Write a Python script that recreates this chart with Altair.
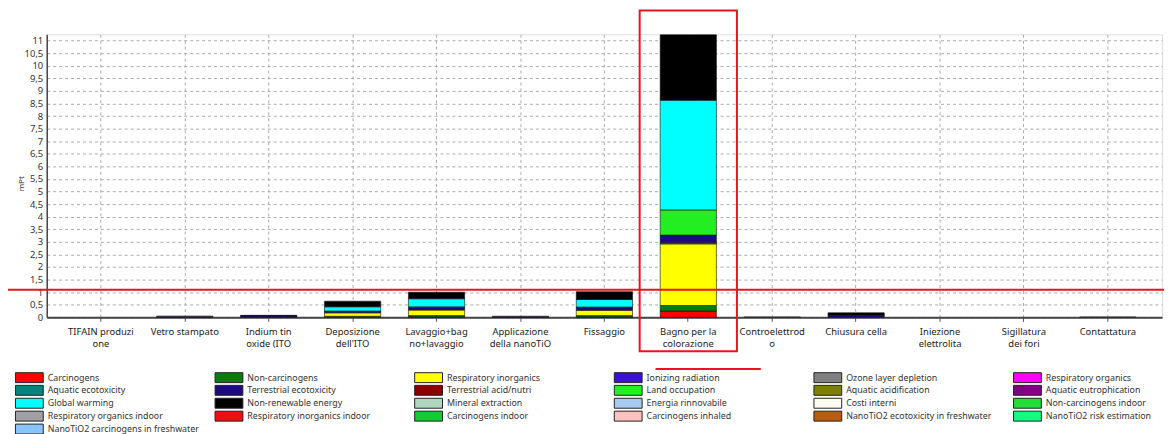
import altair as alt
import pandas as pd

FONT = "Noto Sans"

categories = [
    "TIFAIN produzi|one", "Vetro stampato", "Indium tin|oxide (ITO",
    "Deposizione|dell'ITO", "Lavaggio+bag|no+lavaggio", "Applicazione|della nanoTiO",
    "Fissaggio", "Bagno per la|colorazione", "Controelettrod|o", "Chiusura cella",
    "Iniezione|elettrolita", "Sigillatura|dei fori", "Contattatura",
]

impacts = [
    "Carcinogens", "Non-carcinogens", "Respiratory inorganics", "Ionizing radiation",
    "Ozone layer depletion", "Respiratory organics", "Aquatic ecotoxicity",
    "Terrestrial ecotoxicity", "Terrestrial acid/nutri", "Land occupation",
    "Aquatic acidification", "Aquatic eutrophication", "Global warming",
    "Non-renewable energy", "Mineral extraction", "Energia rinnovabile",
    "Costi interni", "Non-carcinogens indoor", "Respiratory organics indoor",
    "Respiratory inorganics indoor", "Carcinogens indoor", "Carcinogens inhaled",
    "NanoTiO2 ecotoxicity in freshwater", "NanoTiO2 risk estimation",
    "NanoTiO2 carcinogens in freshwater",
]

colors = [
    "#ff0000", "#0b7a12", "#ffff00", "#3a10d8",
    "#808080", "#ff00ff", "#0a8080",
    "#1e0a80", "#8a0000", "#22ee22",
    "#7f8000", "#800080", "#00ffff",
    "#000000", "#b0d8c0", "#a6caf0",
    "#fffbf0", "#22dd33", "#a0a0a4",
    "#ee1010", "#10cc30", "#ffc0c0",
    "#b85c14", "#10ff80",
    "#88c4ff",
]

# values (mPt) per process, in the order of `categories`
carcinogens            = [0, 0, 0, 0, 0.02, 0, 0.02, 0.25, 0, 0, 0, 0, 0]
non_carcinogens        = [0, 0, 0, 0.04, 0.05, 0, 0.05, 0.22, 0, 0, 0, 0, 0]
respiratory_inorganics = [0, 0, 0, 0.14, 0.22, 0, 0.21, 2.45, 0, 0, 0, 0, 0]
respiratory_organics   = [0, 0, 0, 0, 0, 0, 0, 0.04, 0, 0, 0, 0, 0]
terrestrial_ecotox     = [0, 0, 0.05, 0.05, 0.10, 0, 0.11, 0.31, 0, 0.08, 0, 0, 0]
land_occupation        = [0, 0, 0, 0.02, 0.03, 0, 0.02, 1.00, 0, 0, 0, 0, 0]
aquatic_eutrophication = [0, 0.03, 0, 0, 0, 0.025, 0, 0, 0, 0, 0, 0, 0]
global_warming         = [0, 0, 0, 0.17, 0.32, 0, 0.30, 4.36, 0, 0, 0, 0, 0]
non_renewable_energy   = [0, 0, 0.03, 0.22, 0.26, 0, 0.31, 2.60, 0, 0.10, 0, 0, 0]
energia_rinnovabile    = [0, 0.02, 0, 0, 0, 0.02, 0, 0, 0.015, 0, 0, 0, 0.015]

series = {
    "Carcinogens": carcinogens,
    "Non-carcinogens": non_carcinogens,
    "Respiratory inorganics": respiratory_inorganics,
    "Respiratory organics": respiratory_organics,
    "Terrestrial ecotoxicity": terrestrial_ecotox,
    "Land occupation": land_occupation,
    "Aquatic eutrophication": aquatic_eutrophication,
    "Global warming": global_warming,
    "Non-renewable energy": non_renewable_energy,
    "Energia rinnovabile": energia_rinnovabile,
}

y_ticks = [i * 0.5 for i in range(23)]

rows = []
for name, vals in series.items():
    for cat, v in zip(categories, vals):
        if v > 0:
            rows.append({"process": cat, "impact": name, "value": v,
                         "order": impacts.index(name)})
df = pd.DataFrame(rows)

W, H = 1123, 285

y_scale = alt.Scale(domain=[0, 11.25], nice=False, zero=True)
y_axis = alt.Axis(
    values=y_ticks, title="mPt", titleFont=FONT, titleFontSize=8,
    titleFontWeight="normal", titleColor="#333", titleX=-25, titleY=150,
    titleAngle=-90, titleAlign="center", titleBaseline="middle",
    labelExpr="replace(format(datum.value, '~g'), '.', ',')", labelOverlap=False,
    labelFont=FONT, labelFontSize=9.5, labelColor="#333", labelPadding=4,
    ticks=False, grid=True, gridDash=[3, 3], gridColor="#aaaaaa",
    domainColor="#444", domainWidth=1.5,
)
x_scale = alt.Scale(domain=categories, paddingInner=0.33, paddingOuter=0.31)
x_axis = alt.Axis(
    title=None, labelAngle=0, labelExpr="split(datum.label, '|')",
    labelFont=FONT, labelFontSize=9.5, labelColor="#222", labelLineHeight=12,
    labelPadding=5, grid=True, gridDash=[3, 3], gridColor="#aaaaaa",
    bandPosition=0.5, ticks=True, tickSize=4, tickColor="#555",
    domainColor="#444", domainWidth=2, labelLimit=200,
)

bars = alt.Chart(df).mark_bar(stroke="#111", strokeWidth=0.6).encode(
    x=alt.X("process:N", scale=x_scale, axis=x_axis),
    y=alt.Y("value:Q", stack="zero", scale=y_scale, axis=y_axis),
    color=alt.Color(
        "impact:N",
        scale=alt.Scale(domain=impacts, range=colors),
        legend=alt.Legend(
            title=None, orient="none", legendX=-23, legendY=340,
            direction="horizontal", columns=6, gridAlign="all",
            symbolType="M-2.8,-1H2.8V1H-2.8Z", symbolSize=100,
            symbolStrokeColor="#222", symbolStrokeWidth=1, symbolOpacity=1,
            labelFont=FONT, labelFontSize=8.9, labelColor="#333",
            labelOffset=13, labelLimit=200, columnPadding=14, rowPadding=-5,
        ),
    ),
    order=alt.Order("order:Q"),
)

highlight = alt.Chart(pd.DataFrame({"process": [categories[7]]})).mark_bar(
    filled=False, stroke="#e8141e", strokeWidth=2, clip=False,
    width={"band": 1.73},
).encode(
    x=alt.X("process:N", scale=x_scale, axis=x_axis),
    y=alt.Y(datum=12.2, scale=y_scale, axis=y_axis),
    y2=alt.Y2(datum=-1.35),
)

hline = alt.Chart(pd.DataFrame({"v": [1.1]})).mark_rule(
    color="#e8141e", strokeWidth=2, clip=False
).encode(y=alt.Y("v:Q", scale=y_scale, axis=y_axis), x=alt.value(-47), x2=alt.value(W + 10))

underline = alt.Chart(pd.DataFrame({"v": [0]})).mark_rule(
    color="#e8141e", strokeWidth=2, clip=False
).encode(y=alt.value(337), x=alt.value(613), x2=alt.value(719))

chart = alt.layer(bars, highlight, hline, underline).properties(
    width=W, height=H,
    autosize=alt.AutoSizeParams(type="none"),
    padding={"left": 39, "top": 25, "right": 2, "bottom": 116},
).configure_view(stroke="#999999", strokeWidth=1).configure(background="white")

chart.save("out.html", embed_options={"renderer": "svg", "actions": False})
